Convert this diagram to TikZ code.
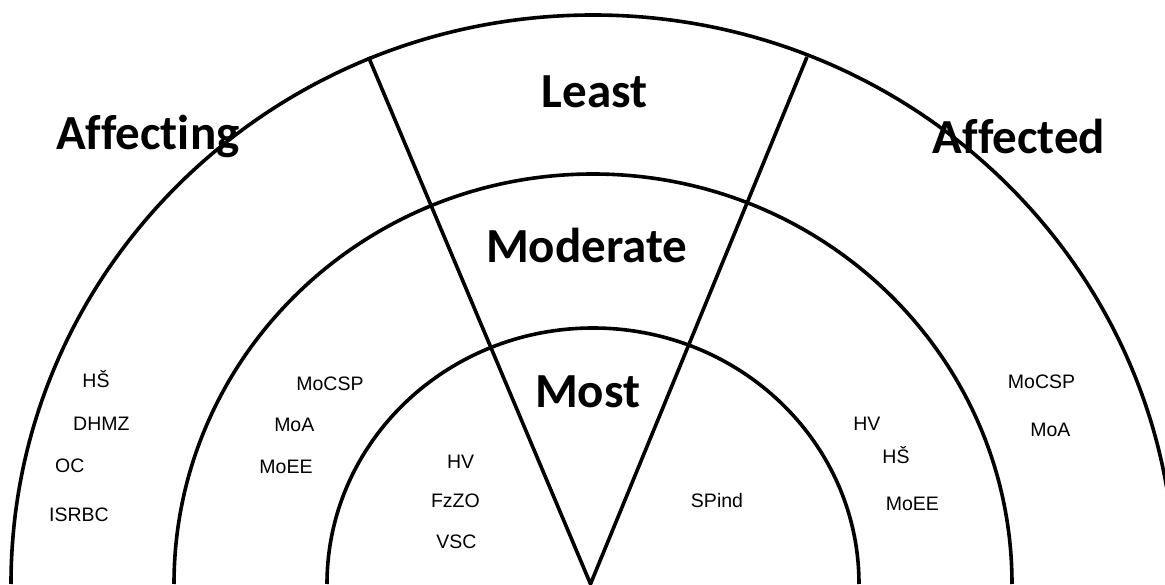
\documentclass[tikz,border=0pt]{standalone}
\usepackage{fontspec}
\setmainfont{Liberation Sans}
\newfontfamily\headfont[Ligatures=NoCommon]{Carlito}
\begin{document}
\begin{tikzpicture}[x=1pt,y=1pt,
  ring/.style={line width=3.6pt},
  tier/.style={font=\headfont\bfseries\fontsize{49}{51}\selectfont, inner sep=0pt, anchor=base},
  item/.style={font=\fontsize{19.5}{22}\selectfont, inner sep=0pt, anchor=base}]
\useasboundingbox (0,0) rectangle (1165,584);
\begin{scope}
  \clip (0,0) rectangle (1165,584);
  % three concentric half rings
  \draw[ring] (593+266,0) arc[start angle=0,end angle=180,x radius=266,y radius=256];
  \draw[ring] (593+419,0) arc[start angle=0,end angle=180,x radius=419,y radius=410];
  \draw[ring] (593+582,0) arc[start angle=0,end angle=180,x radius=582,y radius=569];
  % the wedge separating the two sides
  \coordinate (apex) at (590.5,0);
  \coordinate (lt) at (368.5,527);
  \coordinate (rt) at (807,527);
  \draw[ring] (lt) -- (apex) -- (rt);
\end{scope}

% tier headings
\node[tier] (affecting) at (147.8,434) {Affecting};
\node[tier] (least)     at (594.6,476) {Least};
\node[tier] (moderate)  at (586.7,321) {Moderate};
\node[tier] (most)      at (587.7,176.7) {Most};
\node[tier] (affected)  at (1019,430.7) {Affected};

% affecting side
\node[item] (hsL)    at (96,196.7)   {HŠ};
\node[item] (dhmz)   at (101.4,153)  {DHMZ};
\node[item] (oc)     at (69.8,111.3) {OC};
\node[item] (isrbc)  at (79,63)      {ISRBC};
\node[item] (mocspL) at (330,193.3)  {MoCSP};
\node[item] (moaL)   at (294.3,152.3){MoA};
\node[item] (moeeL)  at (286,110.7)  {MoEE};
\node[item] (hvL)    at (460.6,115.7){HV};
\node[item] (fzzo)   at (455.4,76.7) {FzZO};
\node[item] (vsc)    at (456.4,35.7) {VSC};

% affected side
\node[item] (spind)  at (717,76.7)    {SPind};
\node[item] (hvR)    at (866.8,153)   {HV};
\node[item] (hsR)    at (896,120.7)   {HŠ};
\node[item] (moeeR)  at (912.3,74)    {MoEE};
\node[item] (mocspR) at (1041.5,195.7){MoCSP};
\node[item] (moaR)   at (1050.3,147.3){MoA};
\end{tikzpicture}
\end{document}
